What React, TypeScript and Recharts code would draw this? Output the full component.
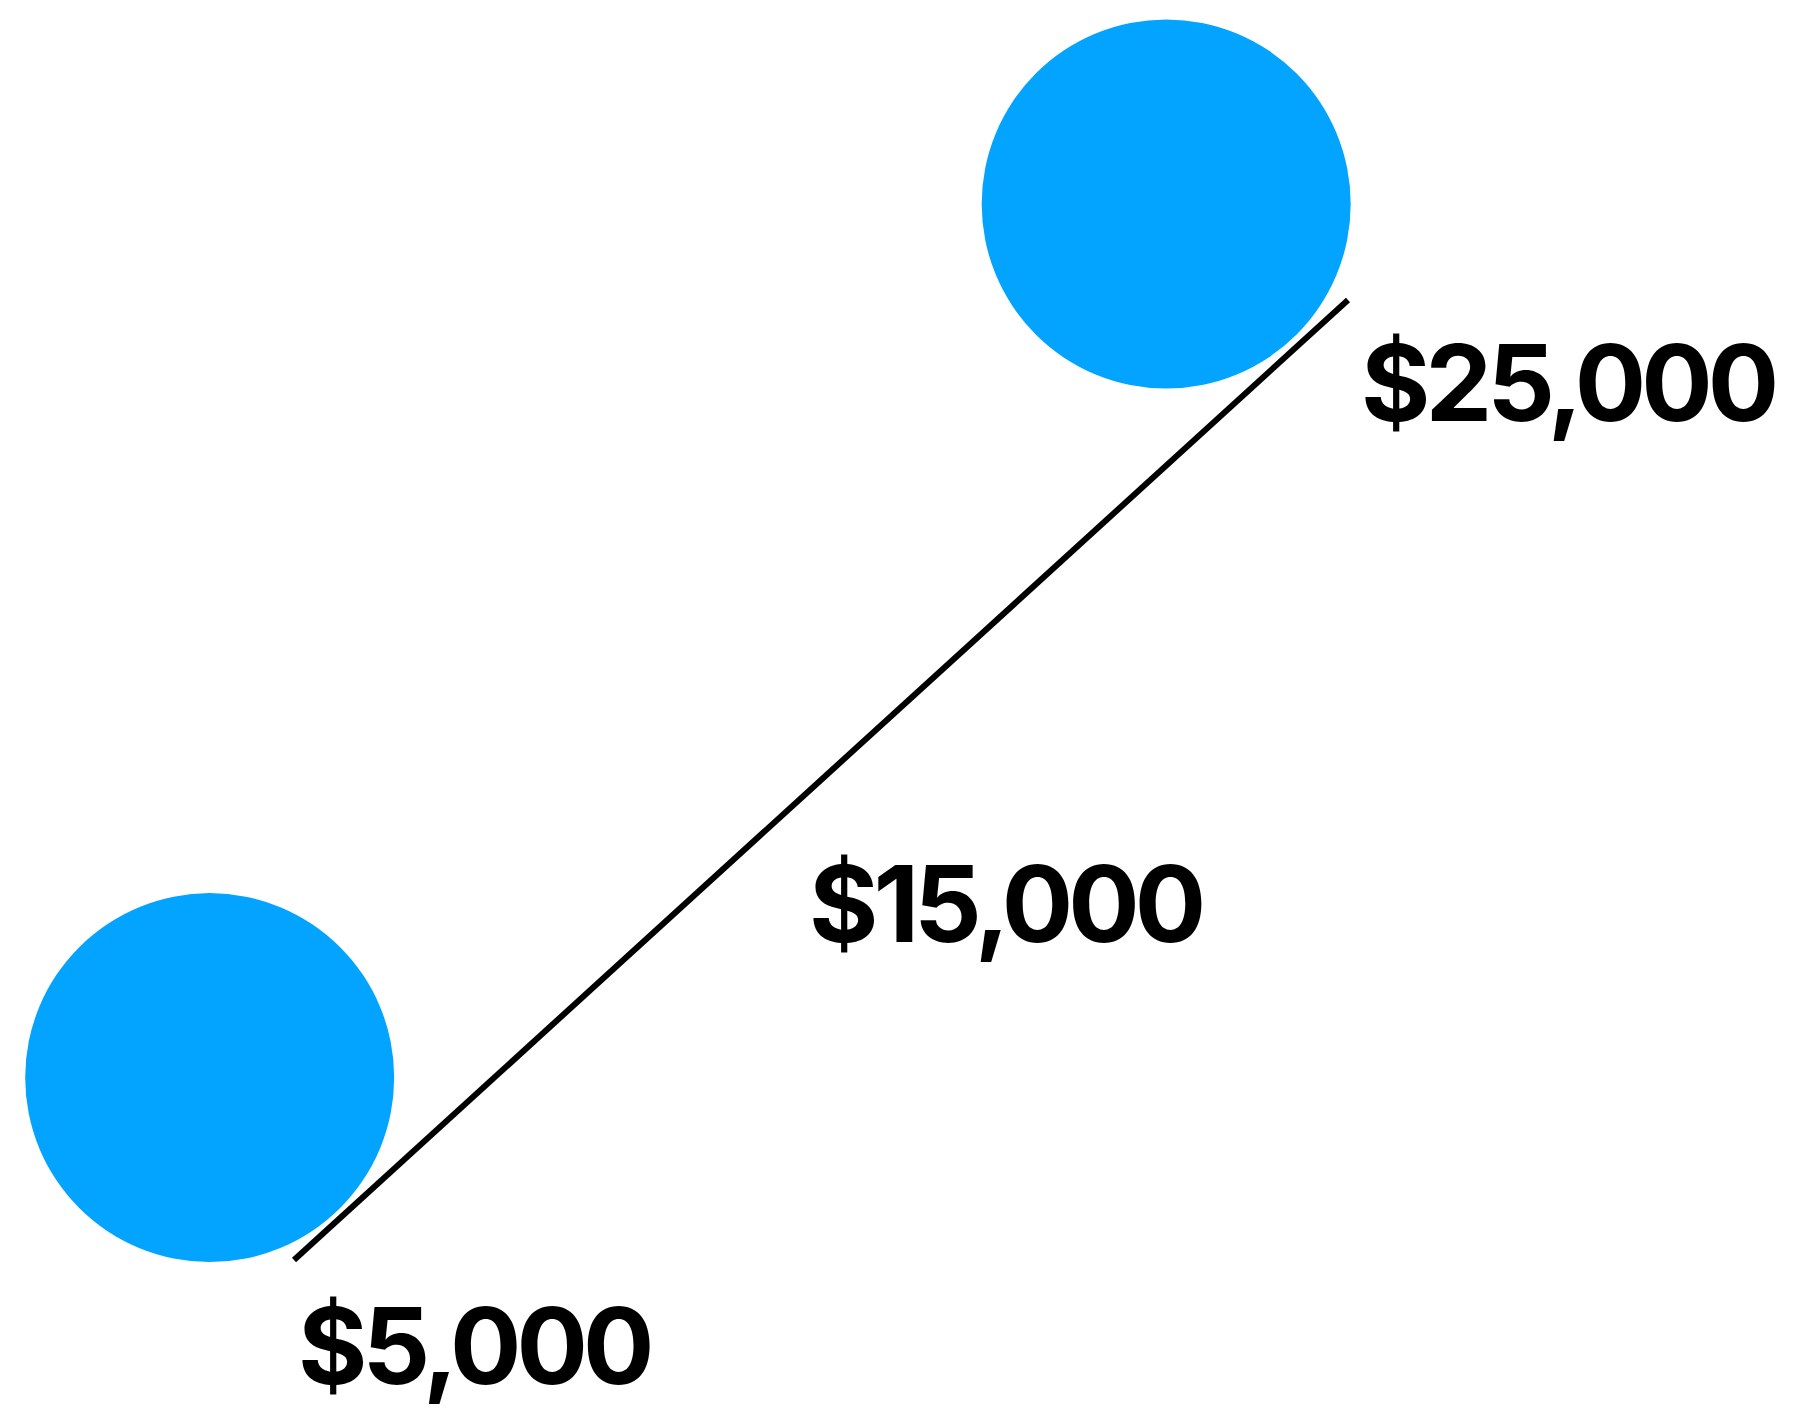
import React from 'react';
import { ComposedChart, Line, Scatter, XAxis, YAxis, LabelList } from 'recharts';

// values along the line, and their labels
const values = [5000, 15000, 25000];
const valueLabels = ['$5,000', '$15,000', '$25,000'];

// the two blue dots, in the same dollar space
const dotX = [3400, 21550];
const dotY = [8800, 27000];

const W = 1794;
const H = 1427;

// where the line runs on the page: first value -> last value
const START = { x: 294, y: 1260 };
const END = { x: 1348, y: 300 };

const v0 = values[0];
const v1 = values[values.length - 1];
const pxPerX = (END.x - START.x) / (v1 - v0);
const pxPerY = (START.y - END.y) / (v1 - v0);
const xDomain = [v0 - START.x / pxPerX, v0 + (W - START.x) / pxPerX];
const yDomain = [v0 - (H - START.y) / pxPerY, v0 + START.y / pxPerY];

const lineData = values.map((v, i) => ({ x: v, y: v, label: valueLabels[i] }));
const dotData = dotX.map((x, i) => ({ x, y: dotY[i] }));

const labelOffsets = [
  { dx: 4, dy: 124 },
  { dx: -12, dy: 162 },
  { dx: 13, dy: 121 },
];

const BLUE = '#02A4FF';

const ValueLabel = (props: any) => {
  const { x, y, value, index } = props;
  const off = labelOffsets[index] || { dx: 0, dy: 0 };
  return (
    <text
      x={x + off.dx}
      y={y + off.dy}
      fill="#000"
      textAnchor="start"
      style={{ fontFamily: 'Inter, sans-serif', fontWeight: 700, fontSize: 106, letterSpacing: -5 }}
    >
      {value}
    </text>
  );
};

const BigDot = (props: any) => <circle cx={props.cx} cy={props.cy} r={184.5} fill={BLUE} />;

export default function App() {
  return (
    <div style={{ position: 'absolute', left: 0, top: 0, width: W, height: H, background: '#fff' }}>
      <ComposedChart width={W} height={H} margin={{ top: 0, right: 0, bottom: 0, left: 0 }}>
        <XAxis type="number" dataKey="x" domain={xDomain} allowDataOverflow hide />
        <YAxis type="number" dataKey="y" domain={yDomain} allowDataOverflow hide />
        <Scatter data={dotData} shape={BigDot} isAnimationActive={false} />
        <Line
          data={lineData}
          dataKey="y"
          type="linear"
          stroke="#000"
          strokeWidth={6}
          dot={false}
          activeDot={false}
          isAnimationActive={false}
        >
          <LabelList dataKey="label" content={ValueLabel} />
        </Line>
      </ComposedChart>
    </div>
  );
}
